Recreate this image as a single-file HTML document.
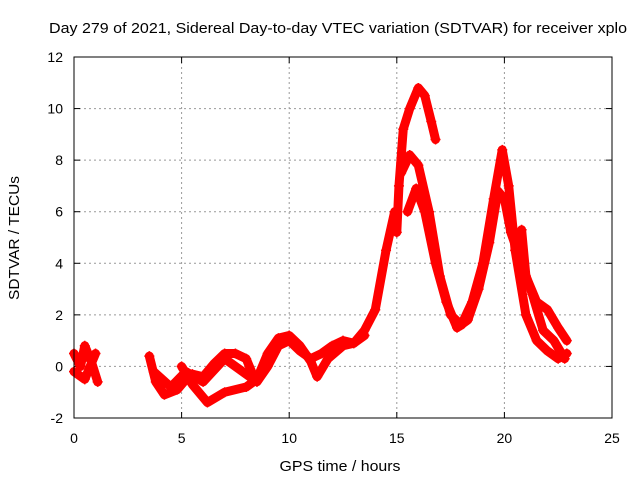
<!DOCTYPE html>
<html><head><meta charset="utf-8"><style>
body{margin:0;background:#fff}
svg{display:block;font-family:"Liberation Sans",sans-serif}
</style></head><body>
<svg id="chart" width="640" height="480" viewBox="0 0 640 480">
<text x="338" y="33" font-size="15" text-anchor="middle" textLength="578" lengthAdjust="spacingAndGlyphs">Day 279 of 2021, Sidereal Day-to-day VTEC variation (SDTVAR) for receiver xplo</text>
<text x="340" y="471" font-size="15" text-anchor="middle" textLength="121" lengthAdjust="spacingAndGlyphs">GPS time / hours</text>
<text transform="translate(19,238) rotate(-90)" font-size="15" text-anchor="middle" textLength="124" lengthAdjust="spacingAndGlyphs">SDTVAR / TECUs</text>
<g id="grid"></g><g id="ticks"></g><g id="marks"></g>
<rect x="74" y="57" width="538" height="361" fill="none" stroke="#000" stroke-width="1"/>
</svg>
<script>
const xTicks=[0,5,10,15,20,25];
const yTicks=[-2,0,2,4,6,8,10,12];
const trace1Hours=[0,0.3,0.5,0.8,1.1];
const trace1Values=[0.5,0,0.8,0.2,-0.6];
const trace2Hours=[0,0.5,1.0];
const trace2Values=[-0.2,-0.5,0.5];
const trace3Hours=[3.5,3.8,4.2,4.8,5.2,5.5,6.0,6.5,7.0,7.5,8.0,8.3];
const trace3Values=[0.4,-0.6,-1.1,-0.9,-0.5,-0.3,-0.4,0.1,0.5,0.5,0.3,-0.3];
const trace4Hours=[5.0,5.5,6.2,7.0,8.0,8.5,9.0,9.5,10.0,10.5,11.0,11.3,11.8,12.5,13.0,13.5];
const trace4Values=[0,-0.7,-1.4,-1.0,-0.8,-0.5,0.5,1.1,1.2,0.8,0.2,-0.4,0.3,0.8,0.9,1.2];
const trace5Hours=[3.7,4.5,5.2,6.0,7.0,8.0,8.5,9.0,9.5,10.0,10.5,11.0,11.5,12.0,12.5,13.0,13.5,14.0,14.5,14.9];
const trace5Values=[-0.2,-0.8,-0.2,-0.6,0.3,-0.3,-0.6,0,0.8,1.0,0.6,0.3,0.5,0.8,1.0,0.9,1.4,2.2,4.5,6.0];
const trace6Hours=[15.0,15.1,15.3,15.6,16.0,16.3,16.6,16.8];
const trace6Values=[5.2,7.0,9.2,10.0,10.8,10.5,9.5,8.8];
const trace7Hours=[15.2,15.6,16.0,16.5,17.0,17.5,18.0,18.5,19.0,19.5,19.9,20.2,20.5,21.0,21.5,22.0,22.5,22.9];
const trace7Values=[7.5,8.2,7.8,6.0,3.5,2.0,1.6,2.5,4.0,6.5,8.4,7.0,4.5,2.0,1.0,0.6,0.3,0.5];
const trace8Hours=[15.5,15.9,16.3,16.8,17.3,17.8,18.3,18.8,19.3,19.7,20.0,20.3,20.8,21.3,21.8,22.3,22.8];
const trace8Values=[6.0,6.9,6.0,4.0,2.5,1.5,1.8,3.0,4.8,6.8,6.5,5.2,4.0,2.8,1.4,1.0,0.3];
const trace9Hours=[20.8,21.0,21.5,22.0,22.5,22.9];
const trace9Values=[5.3,3.5,2.5,2.2,1.5,1.0];
const traces=[[trace1Hours,trace1Values],[trace2Hours,trace2Values],[trace3Hours,trace3Values],[trace4Hours,trace4Values],[trace5Hours,trace5Values],[trace6Hours,trace6Values],[trace7Hours,trace7Values],[trace8Hours,trace8Values],[trace9Hours,trace9Values]];
const NS="http://www.w3.org/2000/svg";
const X=h=>74+h*(538/25);
const Y=v=>418-(v+2)*(361/14);
const grid=document.getElementById('grid'),ticks=document.getElementById('ticks'),marks=document.getElementById('marks');
function mk(tag,parent,attrs){const e=document.createElementNS(NS,tag);for(const k in attrs)e.setAttribute(k,attrs[k]);parent.appendChild(e);return e;}
xTicks.forEach(t=>{
  const x=X(t);
  if(t>0&&t<25){const g=mk('line',grid,{x1:x,x2:x,y1:57,y2:418,stroke:'#999','stroke-dasharray':'2,3'});
  
  }
  const tl=mk('text',ticks,{x:x,y:443,'font-size':14,'text-anchor':'middle'});tl.textContent=t;
  
  
  mk('line',ticks,{x1:x,x2:x,y1:418,y2:412,stroke:'#000'});
  mk('line',ticks,{x1:x,x2:x,y1:57,y2:63,stroke:'#000'});
});
yTicks.forEach(t=>{
  const y=Y(t);
  if(t>-2&&t<12){const g=mk('line',grid,{x1:74,x2:612,y1:y,y2:y,stroke:'#999','stroke-dasharray':'2,3'});
  
  }
  const tl=mk('text',ticks,{x:63,y:y+5,'font-size':14,'text-anchor':'end'});tl.textContent=t;
  
  
  mk('line',ticks,{x1:74,x2:80,y1:y,y2:y,stroke:'#000'});
  mk('line',ticks,{x1:612,x2:606,y1:y,y2:y,stroke:'#000'});
});
traces.forEach((tr,i)=>{
  const [hs,vs]=tr;
  const pts=hs.map((h,j)=>X(h)+','+Y(vs[j])).join(' ');
  const pl=mk('polyline',marks,{points:pts,fill:'none',stroke:'#ff0000','stroke-width':9,'stroke-linejoin':'round','stroke-linecap':'round'});
  
  
  hs.forEach((h,j)=>{
    const x=X(h),y=Y(vs[j]);
    const p=mk('path',marks,{d:`M${x-5},${y}H${x+5}M${x},${y-5}V${y+5}`,stroke:'#ff0000','stroke-width':1.5});
    
    
  });
});
</script>
</body></html>
